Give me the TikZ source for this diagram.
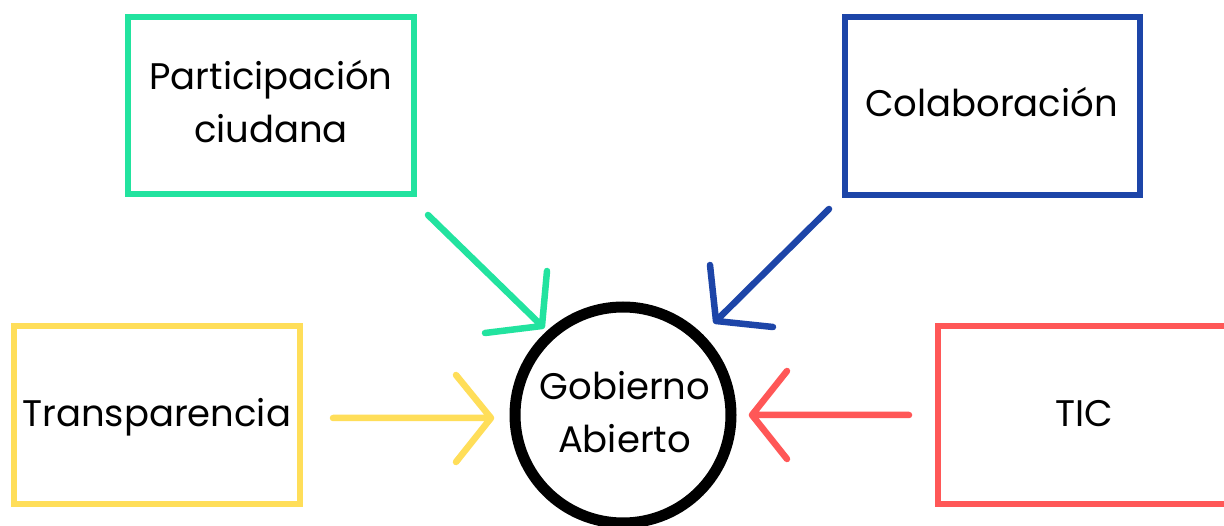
\documentclass[tikz,border=0pt]{standalone}
\usepackage{fontspec}
\setmainfont{Poppins}
\definecolor{cgreen}{HTML}{22E39F}
\definecolor{cblue}{HTML}{1D45A8}
\definecolor{cyellow}{HTML}{FFDE59}
\definecolor{cred}{HTML}{FF5757}
\tikzset{
  box/.style={draw, line width=6pt, minimum width=286pt, minimum height=177pt, inner sep=0pt},
  lbl/.style={anchor=base, inner sep=0pt, font=\fontsize{37}{44}\selectfont},
  conn/.style={line width=6.5pt, line cap=round, line join=round},
}
\begin{document}
\begin{tikzpicture}[x=1pt,y=-1pt]
\useasboundingbox (0,0) rectangle (1224,526);
\clip (0,0) rectangle (1224,526);
\fill[white] (0,0) rectangle (1224,526);
\node[box, draw=cgreen] (part) at (271,105.5) {};
\node[lbl] (partt1) at (271,90) {Participación};
\node[lbl] (partt2) at (271,143) {ciudana};
\node[box, draw=cblue, minimum width=295pt, minimum height=178pt] (cola) at (992.5,106) {};
\node[lbl] (colat) at (991.5,117) {Colaboración};
\node[box, draw=cyellow] (trans) at (157,415) {};
\node[lbl, anchor=base west] (transt) at (22,427) {Transparencia};
\node[box, draw=cred, minimum width=310pt] (tic) at (1093,415) {};
\node[lbl] (tict) at (1084,427) {TIC};
\node[circle, draw=black, line width=11pt, minimum size=216pt, inner sep=0pt] (gob) at (623,415) {};
\node[lbl] (gobt1) at (625,400) {Gobierno};
\node[lbl] (gobt2) at (624.5,453) {Abierto};
% arrow coordinates
\coordinate (gt) at (428,215); \coordinate (gp) at (542,326);
\coordinate (g1) at (547,271); \coordinate (g2) at (485,333);
\coordinate (bt) at (829,209); \coordinate (bp) at (716,321);
\coordinate (b1) at (710,265); \coordinate (b2) at (773,327);
\coordinate (yt) at (333,418); \coordinate (yp) at (491,418);
\coordinate (y1) at (456,375); \coordinate (y2) at (456,462);
\coordinate (rt) at (909,415); \coordinate (rp) at (752,415);
\coordinate (r1) at (787,371); \coordinate (r2) at (787,459);
\draw[conn, cgreen] (gt) -- (gp) (g1) -- (gp) -- (g2);
\draw[conn, cblue] (bt) -- (bp) (b1) -- (bp) -- (b2);
\draw[conn, cyellow] (yt) -- (yp) (y1) -- (yp) -- (y2);
\draw[conn, cred] (rt) -- (rp) (r1) -- (rp) -- (r2);
\end{tikzpicture}
\end{document}
